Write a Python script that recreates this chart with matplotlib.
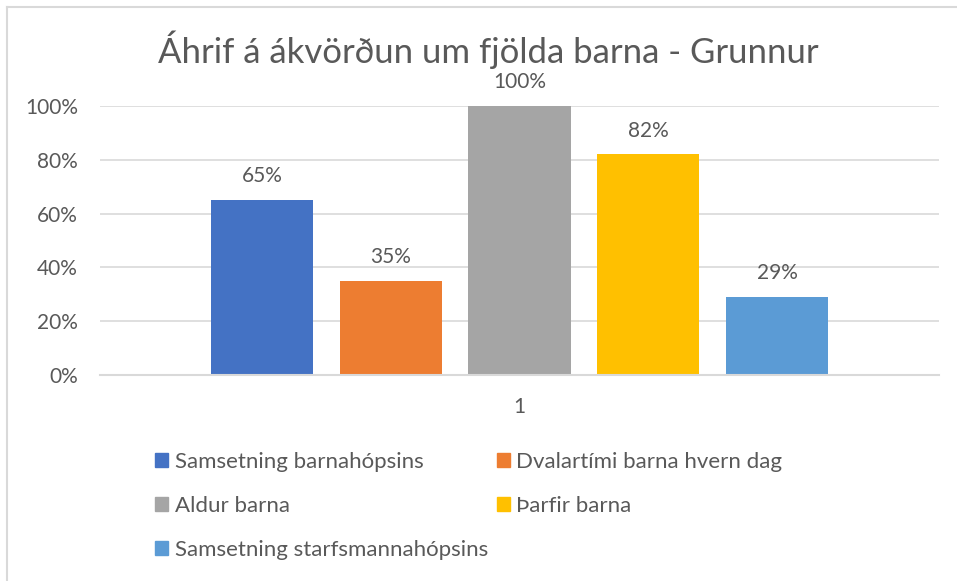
import matplotlib.pyplot as plt
import matplotlib
from matplotlib.patches import Patch
from matplotlib.lines import Line2D
from matplotlib.ticker import PercentFormatter

matplotlib.rcParams['font.family'] = ['Lato', 'DejaVu Sans']
matplotlib.rcParams['text.color'] = '#595959'

title = 'Áhrif á ákvörðun um fjölda barna - Grunnur'
series = ['Samsetning barnahópsins', 'Dvalartími barna hvern dag',
          'Aldur barna', 'Þarfir barna', 'Samsetning starfsmannahópsins']
values = [0.65, 0.35, 1.00, 0.82, 0.29]
labels = ['65%', '35%', '100%', '82%', '29%']
colors = ['#4472c4', '#ed7d31', '#a5a5a5', '#ffc000', '#5b9bd5']
category = '1'

fig = plt.figure(figsize=(9.57, 5.81), dpi=100)
ax = fig.add_axes([100 / 957, 1 - 375 / 581, 839 / 957, 269 / 581])

step = 0.1535
width = 0.1216
for i, (name, v, lab, c) in enumerate(zip(series, values, labels, colors)):
    x = (i - 2) * step
    ax.bar(x, v, width=width, color=c, label=name, zorder=3)
    ax.annotate(lab, (x, v), xytext=(0, 10), textcoords='offset points',
                ha='center', va='bottom', fontsize=15, color='#595959')

ax.set_xlim(-0.5, 0.5)
ax.set_ylim(0, 1)
ax.set_yticks([0, 0.2, 0.4, 0.6, 0.8, 1.0])
ax.yaxis.set_major_formatter(PercentFormatter(1.0, decimals=0))
ax.set_xticks([0])
ax.set_xticklabels([category])
ax.tick_params(axis='both', length=0, labelsize=15, labelcolor='#595959')
ax.tick_params(axis='x', pad=16)
ax.tick_params(axis='y', pad=16)
ax.grid(axis='y', color='#d9d9d9', linewidth=1.2, zorder=0)
for s in ['top', 'right', 'left']:
    ax.spines[s].set_visible(False)
ax.spines['bottom'].set_color('#d9d9d9')
ax.spines['bottom'].set_linewidth(1.5)
ax.spines['bottom'].set_zorder(4)

fig.text(488 / 957, 1 - 50 / 581, title, ha='center', va='center',
         fontsize=25, color='#595959')

# legend filled row-wise like Excel
handles = [Patch(color=c) for c in colors]
order = [0, 2, 4, 1, 3]
fig.legend([handles[i] for i in order], [series[i] for i in order],
           ncol=2, loc='upper left', bbox_to_anchor=(155 / 957, 1 - 452 / 581),
           frameon=False, fontsize=16, handlelength=0.6, handleheight=0.6,
           handletextpad=0.28, columnspacing=0.4, labelspacing=1.07,
           borderpad=0, borderaxespad=0, labelcolor='#595959')

# chart border
fig.add_artist(Line2D([7 / 957, 7 / 957], [0, 1 - 7 / 581], transform=fig.transFigure,
                      color='#d9d9d9', linewidth=1.5))
fig.add_artist(Line2D([7 / 957, 1], [1 - 7 / 581, 1 - 7 / 581], transform=fig.transFigure,
                      color='#d9d9d9', linewidth=1.5))

fig.savefig('out.png', dpi=100)
